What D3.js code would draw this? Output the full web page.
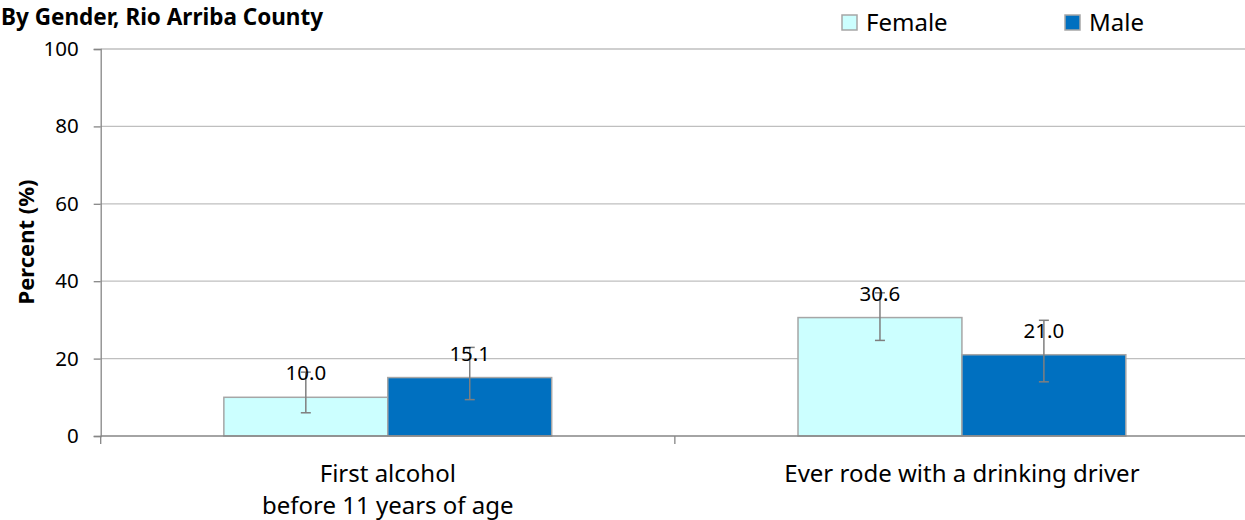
<!DOCTYPE html>
<html>
<head>
<meta charset="utf-8">
<script src="https://cdn.jsdelivr.net/npm/d3@7"></script>
<style>
  html, body { margin: 0; padding: 0; background: #fff; }
  svg { display: block; }
  text { font-family: "Noto Sans", "Open Sans", sans-serif; fill: #000; }
</style>
</head>
<body>
<svg id="chart" width="1245" height="520"></svg>
<script>
// ---- data ----
const categories = [["First alcohol", "before 11 years of age"], ["Ever rode with a drinking driver"]];
const categoryKeys = ["First alcohol before 11 years of age", "Ever rode with a drinking driver"];
const seriesNames = ["Female", "Male"];
const femaleValues = [10.0, 30.6];
const maleValues = [15.1, 21.0];
const femaleLow = [6.0, 24.7];
const femaleHigh = [16.5, 37.0];
const maleLow = [9.4, 14.0];
const maleHigh = [22.9, 29.9];
const yTicks = [0, 20, 40, 60, 80, 100];
const titleText = "By Gender, Rio Arriba County";
const yTitle = "Percent (%)";

const colors = { Female: "#CCFFFF", Male: "#0070C0" };

const svg = d3.select("#chart");
const plotLeft = 100.7, plotRight = 1249, plotTop = 49, plotBottom = 436;

const x0 = d3.scaleBand().domain(categoryKeys).range([plotLeft, plotRight]).paddingInner(0).paddingOuter(0);
const bw = x0.bandwidth();
const groupW = bw * 0.571;
const x1 = d3.scaleBand().domain(seriesNames).range([(bw - groupW) / 2, (bw + groupW) / 2]).padding(0);
const y = d3.scaleLinear().domain([0, 100]).range([plotBottom, plotTop]);

const rows = [];
categoryKeys.forEach((c, i) => {
  rows.push({ cat: c, s: "Female", v: femaleValues[i], lo: femaleLow[i], hi: femaleHigh[i] });
  rows.push({ cat: c, s: "Male", v: maleValues[i], lo: maleLow[i], hi: maleHigh[i] });
});

// gridlines
svg.append("g").selectAll("line").data(yTicks.filter(t => t > 0)).join("line")
  .attr("x1", plotLeft).attr("x2", plotRight)
  .attr("y1", d => y(d)).attr("y2", d => y(d))
  .attr("stroke", "#BFBFBF").attr("stroke-width", 1.3);

// y axis
const yAxis = d3.axisLeft(y).tickValues(yTicks).tickSize(7).tickPadding(15).tickFormat(d3.format("d"));
const gy = svg.append("g").attr("transform", `translate(${plotLeft},0)`).call(yAxis);
gy.select(".domain").attr("stroke", "#868686").attr("stroke-width", 1.3);
gy.selectAll(".tick line").attr("stroke", "#868686").attr("stroke-width", 1.3);
gy.selectAll(".tick text").attr("font-size", 20.5).attr("font-family", "Noto Sans").attr("fill", "#000");

// bars
svg.append("g").selectAll("rect").data(rows).join("rect")
  .attr("x", d => x0(d.cat) + x1(d.s))
  .attr("y", d => y(d.v))
  .attr("width", x1.bandwidth())
  .attr("height", d => y(0) - y(d.v))
  .attr("fill", d => colors[d.s])
  .attr("stroke", "#A6A6A6").attr("stroke-width", 1.5);

// x axis (baseline)
const xAxisG = svg.append("g");
xAxisG.append("line").attr("x1", plotLeft).attr("x2", plotRight).attr("y1", y(0)).attr("y2", y(0))
  .attr("stroke", "#868686").attr("stroke-width", 1.3);
const xTickPos = [plotLeft].concat(categoryKeys.map(c => x0(c) + bw));
xAxisG.selectAll("line.t").data(xTickPos).join("line").attr("class", "t")
  .attr("x1", d => d).attr("x2", d => d).attr("y1", y(0)).attr("y2", y(0) + 8)
  .attr("stroke", "#868686").attr("stroke-width", 1.3);

// category labels
categoryKeys.forEach((c, i) => {
  const t = svg.append("text").attr("text-anchor", "middle").attr("font-size", 24)
    .attr("x", x0(c) + bw / 2).attr("y", 481.5);
  categories[i].forEach((line, j) => {
    t.append("tspan").attr("x", x0(c) + bw / 2).attr("dy", j === 0 ? 0 : 32).text(line);
  });
});

// error bars
const eb = svg.append("g").attr("stroke", "#7F7F7F").attr("stroke-width", 1.5);
rows.forEach(d => {
  const cx = x0(d.cat) + x1(d.s) + x1.bandwidth() / 2;
  eb.append("line").attr("x1", cx).attr("x2", cx).attr("y1", y(d.lo)).attr("y2", y(d.hi));
  eb.append("line").attr("x1", cx - 5).attr("x2", cx + 5).attr("y1", y(d.lo)).attr("y2", y(d.lo));
  eb.append("line").attr("x1", cx - 5).attr("x2", cx + 5).attr("y1", y(d.hi)).attr("y2", y(d.hi));
});

// value labels
svg.append("g").selectAll("text").data(rows).join("text")
  .attr("text-anchor", "middle").attr("font-size", 20.5)
  .attr("x", d => x0(d.cat) + x1(d.s) + x1.bandwidth() / 2)
  .attr("y", d => y(d.v) - 17)
  .text(d => d3.format(".1f")(d.v));

// title
svg.append("text").attr("x", 1).attr("y", 24.5).attr("font-size", 22.5).attr("font-weight", "bold").text(titleText);

// y title
svg.append("text").attr("transform", "translate(34,242) rotate(-90)").attr("text-anchor", "middle")
  .attr("font-size", 22).attr("font-weight", "bold").text(yTitle);

// legend
const legendX = [842, 1065];
const lg = svg.append("g").selectAll("g").data(seriesNames).join("g")
  .attr("transform", (d, i) => `translate(${legendX[i]},15)`);
lg.append("rect").attr("width", 15).attr("height", 15).attr("fill", d => colors[d])
  .attr("stroke", "#A6A6A6").attr("stroke-width", 1.5);
lg.append("text").attr("x", 24).attr("y", 15.5).attr("font-size", 24).text(d => d);
</script>
</body>
</html>
